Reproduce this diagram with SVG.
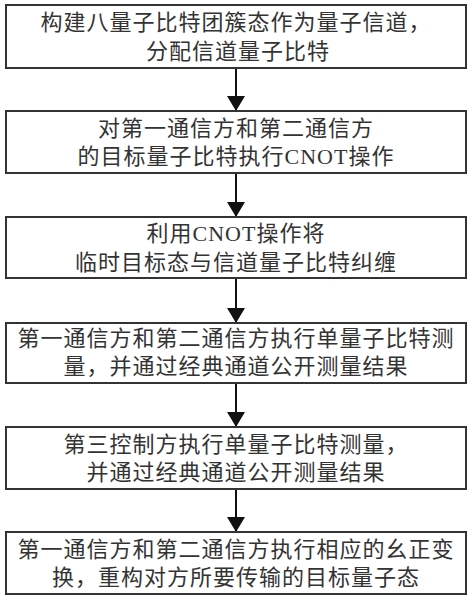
<svg xmlns="http://www.w3.org/2000/svg" width="472" height="600" viewBox="0 0 472 600">
<style>
.box{fill:#fff;stroke:#333;stroke-width:2}
.t{font-family:"Liberation Serif","Noto Sans CJK SC",serif;font-size:22px;fill:#333;text-anchor:middle;letter-spacing:1px}
.c{stroke:#111;stroke-width:2;fill:none}
</style>
<defs>
<marker id="ah" markerWidth="15" markerHeight="18" refX="15" refY="9" orient="auto" markerUnits="userSpaceOnUse">
<path d="M0,0 L15,9 L0,18 Z" fill="#111"/>
</marker>
</defs>
<rect width="472" height="600" fill="#fff"/>
<g id="connectors">
<line class="c" x1="236" y1="68" x2="236" y2="111" marker-end="url(#ah)"/>
<line class="c" x1="236" y1="173" x2="236" y2="217" marker-end="url(#ah)"/>
<line class="c" x1="236" y1="278" x2="236" y2="323" marker-end="url(#ah)"/>
<line class="c" x1="236" y1="383" x2="236" y2="427" marker-end="url(#ah)"/>
<line class="c" x1="236" y1="489" x2="236" y2="532" marker-end="url(#ah)"/>
</g>
<g id="n1">
<rect class="box" x="6" y="5" width="460" height="63"/>
<text class="t" x="236" y="30">构建八量子比特团簇态作为量子信道，</text>
<text class="t" x="238" y="59">分配信道量子比特</text>
</g>
<g id="n2">
<rect class="box" x="6" y="111" width="460" height="62"/>
<text class="t" x="236" y="136">对第一通信方和第二通信方</text>
<text class="t" x="236" y="164">的目标量子比特执行CNOT操作</text>
</g>
<g id="n3">
<rect class="box" x="6" y="217" width="460" height="61"/>
<text class="t" x="236" y="241">利用CNOT操作将</text>
<text class="t" x="236" y="270">临时目标态与信道量子比特纠缠</text>
</g>
<g id="n4">
<rect class="box" x="6" y="323" width="460" height="60"/>
<text class="t" x="236" y="346">第一通信方和第二通信方执行单量子比特测</text>
<text class="t" x="236" y="374">量，并通过经典通道公开测量结果</text>
</g>
<g id="n5">
<rect class="box" x="6" y="427" width="460" height="62"/>
<text class="t" x="236" y="452">第三控制方执行单量子比特测量，</text>
<text class="t" x="236" y="480">并通过经典通道公开测量结果</text>
</g>
<g id="n6">
<rect class="box" x="6" y="532" width="460" height="62"/>
<text class="t" x="236" y="557">第一通信方和第二通信方执行相应的幺正变</text>
<text class="t" x="236" y="585">换，重构对方所要传输的目标量子态</text>
</g>
</svg>
